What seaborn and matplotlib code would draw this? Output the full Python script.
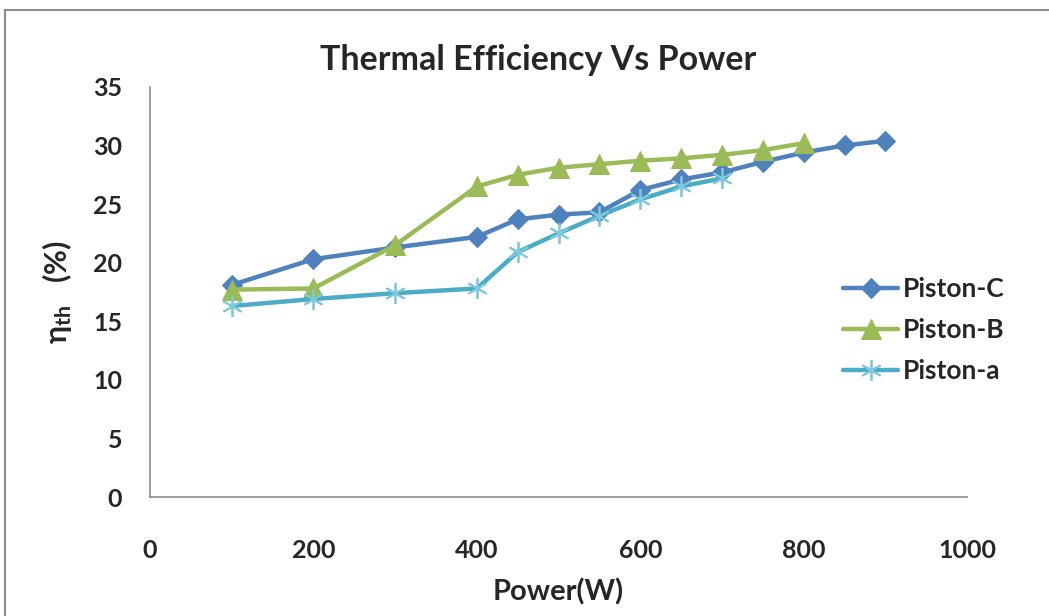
import matplotlib
matplotlib.use("Agg")
import matplotlib.pyplot as plt
import seaborn as sns
import pandas as pd
from matplotlib.patches import Rectangle

# Data
power_c = [100, 200, 300, 400, 450, 500, 550, 600, 650, 700, 750, 800, 850, 900]
eff_c = [18.1, 20.3, 21.3, 22.2, 23.7, 24.1, 24.3, 26.2, 27.1, 27.7, 28.6, 29.4, 30.0, 30.4]
power_b = [100, 200, 300, 400, 450, 500, 550, 600, 650, 700, 750, 800]
eff_b = [17.7, 17.8, 21.5, 26.5, 27.5, 28.1, 28.4, 28.7, 28.9, 29.2, 29.6, 30.2]
power_a = [100, 200, 300, 400, 450, 500, 550, 600, 650, 700]
eff_a = [16.3, 16.9, 17.4, 17.8, 20.9, 22.5, 24.0, 25.4, 26.5, 27.2]
series_names = ["Piston-C", "Piston-B", "Piston-a"]
x_ticks = [0, 200, 400, 600, 800, 1000]
y_ticks = [0, 5, 10, 15, 20, 25, 30, 35]

sns.set_style("white")
plt.rcParams['font.family'] = ['Lato', 'DejaVu Sans']

fig = plt.figure(figsize=(10.49, 6.16), dpi=100)
ax = fig.add_axes([0.143, 0.193, 0.779, 0.666])

# outer frame
fig.patches.append(Rectangle((5/1049, -0.1), 1.2, 1 - 10/616 + 0.1, transform=fig.transFigure,
                             fill=False, edgecolor='#8c8c8c', linewidth=1.5))

df_c = pd.DataFrame({"Power": power_c, "Eff": eff_c})
df_b = pd.DataFrame({"Power": power_b, "Eff": eff_b})
df_a = pd.DataFrame({"Power": power_a, "Eff": eff_a})

sns.lineplot(data=df_c, x="Power", y="Eff", ax=ax, color="#4F81BD", linewidth=3.2,
             marker="D", markersize=10, markeredgecolor="#4F81BD", label=series_names[0])
sns.lineplot(data=df_b, x="Power", y="Eff", ax=ax, color="#9BBB59", linewidth=3.2,
             marker="^", markersize=14, markeredgecolor="#9BBB59", label=series_names[1])
sns.lineplot(data=df_a, x="Power", y="Eff", ax=ax, color="#4BACC6", linewidth=3.2,
             marker=(6, 2, 0), markersize=15, markeredgecolor="#7DC8DC", markeredgewidth=1.3,
             label=series_names[2])

ax.set_xlim(0, 1000)
ax.set_ylim(0, 35)
ax.set_xticks(x_ticks)
ax.set_yticks(y_ticks)
ax.tick_params(axis='x', length=0, pad=30, labelsize=18)
ax.tick_params(axis='y', length=0, pad=20, labelsize=18)
for lbl in ax.get_xticklabels() + ax.get_yticklabels():
    lbl.set_fontweight('bold')
for s in ['top', 'right']:
    ax.spines[s].set_visible(False)
for s in ['left', 'bottom']:
    ax.spines[s].set_color('#8c8c8c')
    ax.spines[s].set_linewidth(1.2)

ax.set_xlabel("Power(W)", fontsize=21, fontweight='bold', labelpad=12)
ax.set_ylabel(r"$\mathregular{\eta_{th}}$   (%)", fontsize=22, fontweight='bold', labelpad=14)
ax.set_title("Thermal Efficiency Vs Power", fontsize=24.5, fontweight='bold', pad=12, x=0.475)

leg = ax.legend(loc='center left', bbox_to_anchor=(0.781, 0.464), bbox_transform=fig.transFigure,
                frameon=False, fontsize=19, handlelength=2.1, labelspacing=0.65, handletextpad=0.15)
for t in leg.get_texts():
    t.set_fontweight('bold')

fig.savefig("out.png", dpi=100)
